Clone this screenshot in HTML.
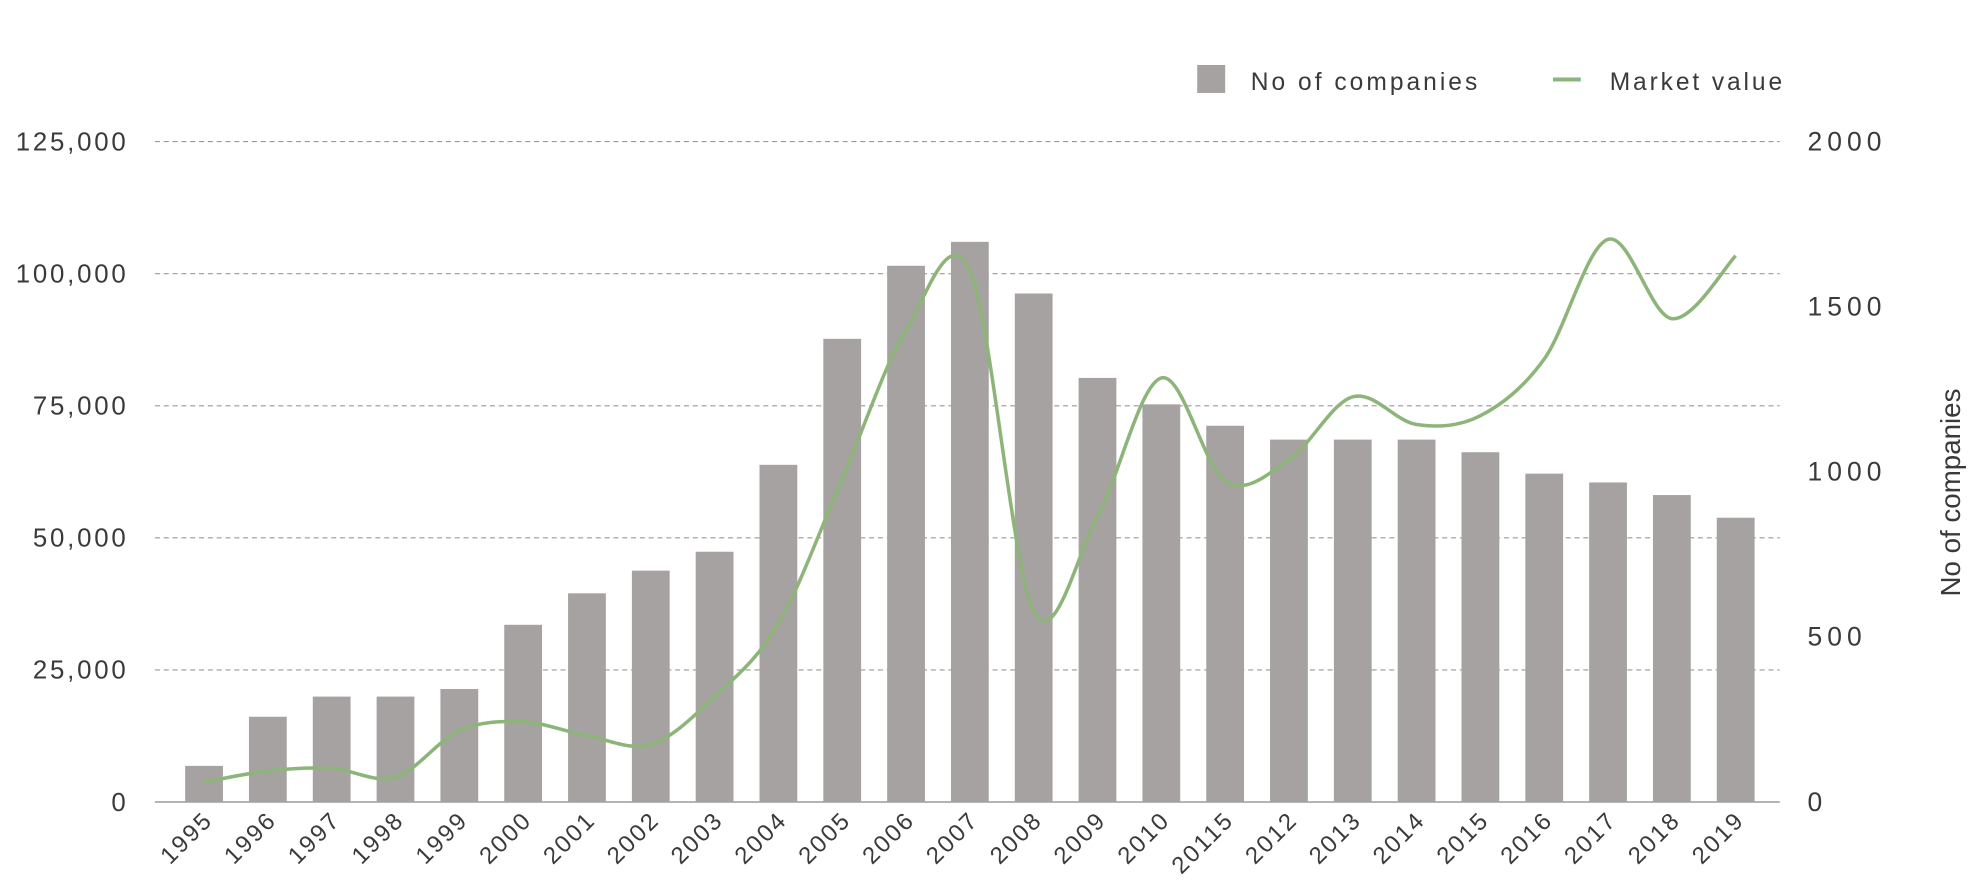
<!DOCTYPE html>
<html><head><meta charset="utf-8"><style>
html,body{margin:0;padding:0;background:#fff;}
svg{display:block;}
text{font-family:"Liberation Sans",sans-serif;fill:#3a3a3a;}
</style></head><body>
<svg id="s" width="1975" height="896" viewBox="0 0 1568 711.3" preserveAspectRatio="none" xmlns="http://www.w3.org/2000/svg">
<g id="grid"></g><g id="bars"></g><g id="line"></g><g id="labels"></g>
<rect x="950.5" y="51.6" width="22.2" height="22.2" fill="#a6a2a1"/>
<text x="993" y="71.5" font-size="19.5" letter-spacing="2.4">No of companies</text>
<rect x="1233" y="61.5" width="22" height="3.2" fill="#8db57a"/>
<text x="1278" y="71.5" font-size="19.5" letter-spacing="2.3">Market value</text>
<text transform="translate(1556,391) rotate(-90)" font-size="22" text-anchor="middle">No of companies</text>
</svg>
<script>
var NS="http://www.w3.org/2000/svg";
function el(p,t,a,txt){var e=document.createElementNS(NS,t);for(var k in a)e.setAttribute(k,a[k]);if(txt!=null)e.textContent=txt;document.getElementById(p).appendChild(e);return e;}
var y0=636.7,yt=112.4,L=123,R=1413;
var lv=["125,000","100,000","75,000","50,000","25,000","0"];
var rv=["2000","1500","1000","500","0"];
for(var i=0;i<6;i++){var y=yt+(y0-yt)*i/5;
 if(i<5) el("grid","line",{x1:L,x2:R,y1:y,y2:y,stroke:"#9a9a9a","stroke-width":0.9,"stroke-dasharray":"4,3"});
 el("labels","text",{x:102,y:y+7,"font-size":20.5,"text-anchor":"end","letter-spacing":2.2},lv[i]);}
for(var i=0;i<5;i++){var y=yt+(y0-yt)*i/4;el("labels","text",{x:1435,y:y+7,"font-size":21,"letter-spacing":4},rv[i]);}
var tops=[608,569,553,553,547,496,471,453,438,369,269,211,192,233,300,321,338,349,349,349,359,376,383,393,411];
var yrs=["1995","1996","1997","1998","1999","2000","2001","2002","2003","2004","2005","2006","2007","2008","2009","2010","20115","2012","2013","2014","2015","2016","2017","2018","2019"];
var step=(1378-162)/24;
for(var i=0;i<25;i++){var c=162+step*i;
 el("bars","rect",{x:c-15,y:tops[i],width:30,height:y0-tops[i],fill:"#a6a2a1"});
 el("labels","text",{x:c+8,y:652,"font-size":19,"letter-spacing":1.8,"text-anchor":"end",transform:"rotate(-45 "+(c+8)+" 652)"},yrs[i]);}
el("grid","line",{x1:L,x2:R,y1:y0,y2:y0,stroke:"#888","stroke-width":1});
var ly=[621,612,610,617,580,573,584,591,553,495,380,262,215,485,410,300,382,365,315,337,330,285,190,253,203];
var P=[];for(var i=0;i<25;i++)P.push([162+step*i,ly[i]]);
var d="M"+P[0][0]+","+P[0][1];
for(var i=0;i<24;i++){var p0=P[Math.max(0,i-1)],p1=P[i],p2=P[i+1],p3=P[Math.min(24,i+2)];
 var c1=[p1[0]+(p2[0]-p0[0])/6,p1[1]+(p2[1]-p0[1])/6],c2=[p2[0]-(p3[0]-p1[0])/6,p2[1]-(p3[1]-p1[1])/6];
 d+=" C"+c1+" "+c2+" "+p2;}
el("line","path",{d:d,fill:"none",stroke:"#8db57a","stroke-width":2.8,"stroke-linejoin":"round"});
</script>
</body></html>
